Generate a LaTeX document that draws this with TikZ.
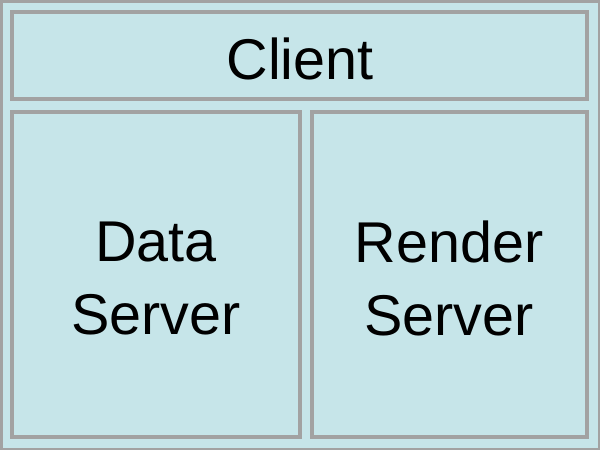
\documentclass[tikz,border=0pt]{standalone}
\usepackage{fontspec}
\setmainfont{Liberation Sans}
\definecolor{boxfill}{HTML}{C6E5E9}
\definecolor{boxline}{HTML}{A2A2A2}
\begin{document}
\begin{tikzpicture}[x=1pt,y=-1pt,
  panel/.style={draw=boxline,line width=4pt,fill=boxfill},
  lbl/.style={inner sep=0pt,align=center,font=\fontsize{57.5}{72.5}\selectfont}]
\useasboundingbox (0,0) rectangle (600,450);
\fill[boxfill] (0,0) rectangle (600,450);
\draw[boxline,line width=5pt] (0,0) rectangle (600,450);
\draw[panel] (12,12) rectangle (587,99);
\draw[panel] (12,112) rectangle (300,437);
\draw[panel] (312,112) rectangle (587,437);
\node[lbl] (client) at (300,59) {Client};
\node[lbl] (data) at (156,278.5) {Data\\Server};
\node[lbl] (render) at (449,278.5) {Render\\Server};
\end{tikzpicture}
\end{document}
